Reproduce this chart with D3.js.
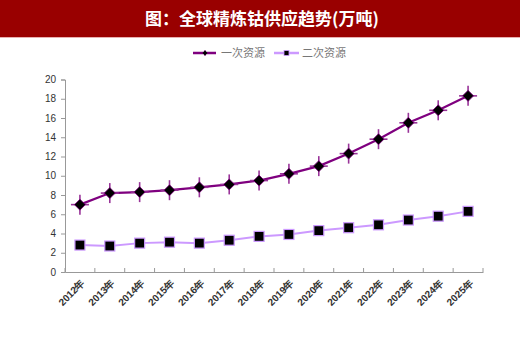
<!DOCTYPE html>
<html><head><meta charset="utf-8">
<script src="https://cdn.jsdelivr.net/npm/d3@7/dist/d3.min.js"></script>
<style>body{margin:0;background:#fff;}svg{display:block;}</style>
</head><body>
<svg id="c" width="520" height="338"></svg>
<script>
const title = "图：全球精炼钴供应趋势(万吨)";
const years = ["2012年","2013年","2014年","2015年","2016年","2017年","2018年","2019年","2020年","2021年","2022年","2023年","2024年","2025年"];
const seriesNames = ["一次资源","二次资源"];
const primary = [7.0, 8.2, 8.3, 8.5, 8.8, 9.1, 9.5, 10.2, 11.0, 12.3, 13.8, 15.5, 16.8, 18.3];
const secondary = [2.8, 2.7, 3.0, 3.1, 3.0, 3.3, 3.7, 3.9, 4.3, 4.6, 4.9, 5.4, 5.8, 6.3];
const yTicks = [0,2,4,6,8,10,12,14,16,18,20];

const svg = d3.select("#c");
const font = "'Liberation Sans', Arial, sans-serif";
const cjk = "'Noto Sans CJK SC', sans-serif";

svg.append("rect").attr("x",0).attr("y",0).attr("width",520).attr("height",37).attr("fill","#990000");
svg.append("rect").attr("x",0).attr("y",37).attr("width",520).attr("height",1).attr("fill","#e8b0b0");
svg.append("text").attr("x",262).attr("y",25).attr("text-anchor","middle")
  .attr("fill","#fff").attr("font-family",cjk).attr("font-weight","bold").attr("font-size",17).text(title);

const x = d3.scaleBand().domain(years).range([65,483]);
const y = d3.scaleLinear().domain([0,20]).range([272,79.5]);

// axes
const yAxis = d3.axisLeft(y).tickValues(yTicks).tickSize(4).tickPadding(5);
const gy = svg.append("g").attr("transform","translate(65,0)").call(yAxis);
gy.select(".domain").attr("stroke","#999");
gy.selectAll(".tick line").attr("stroke","#999");
gy.selectAll("text").attr("font-family",font).attr("font-size",10).attr("fill","#333");

const xAxis = d3.axisBottom(x).tickSizeOuter(0).tickSize(0);
const gx = svg.append("g").attr("transform","translate(0,272)").call(xAxis);
gx.select(".domain").attr("stroke","#999");
gx.selectAll(".tick text").attr("font-family",font).attr("font-size",10).attr("fill","#333").attr("font-weight","bold")
  .attr("text-anchor","end").attr("transform","translate(1,7) rotate(-45)").attr("dy","0.35em").attr("dx","0");
// band boundary ticks
const bounds = years.map(d=>x(d)).concat([x.range()[1]]);
svg.append("g").selectAll("line").data(bounds).join("line")
  .attr("x1",d=>d).attr("x2",d=>d).attr("y1",272).attr("y2",268).attr("stroke","#999");

const cx = d => x(d) + x.bandwidth()/2;

// secondary
const line = d3.line().x((d,i)=>cx(years[i])).y(d=>y(d));
svg.append("path").datum(secondary).attr("d",line).attr("fill","none").attr("stroke","#cc99ff").attr("stroke-width",2);
svg.append("g").selectAll("rect").data(secondary).join("rect")
  .attr("x",(d,i)=>cx(years[i])-5).attr("y",d=>y(d)-5).attr("width",10).attr("height",10)
  .attr("fill","#000").attr("stroke","#cc99ff").attr("stroke-width",1.2);

// primary
svg.append("path").datum(primary).attr("d",line).attr("fill","none").attr("stroke","#7f007f").attr("stroke-width",2.2);
const pg = svg.append("g").selectAll("g").data(primary).join("g")
  .attr("transform",(d,i)=>`translate(${cx(years[i])},${y(d)})`);
pg.append("line").attr("x1",0).attr("x2",0).attr("y1",-10).attr("y2",10).attr("stroke","#993399").attr("stroke-width",1.6);
pg.append("line").attr("x1",-9).attr("x2",9).attr("y1",0).attr("y2",0).attr("stroke","#993399").attr("stroke-width",1.6);
pg.append("path").attr("d","M0,-5.5L5.5,0L0,5.5L-5.5,0Z").attr("fill","#000").attr("stroke","#7f007f").attr("stroke-width",0.8);

// legend
const lg = svg.append("g");
lg.append("line").attr("x1",193).attr("x2",216).attr("y1",53).attr("y2",53).attr("stroke","#7f007f").attr("stroke-width",2.5);
lg.append("line").attr("x1",205).attr("x2",205).attr("y1",50).attr("y2",56).attr("stroke","#993399").attr("stroke-width",1.2);
lg.append("path").attr("d","M205,50.5L207.5,53L205,55.5L202.5,53Z").attr("fill","#000");
lg.append("text").attr("x",221).attr("y",57).attr("font-family",cjk).attr("font-size",11).attr("fill","#777").text(seriesNames[0]);
lg.append("line").attr("x1",274).attr("x2",299).attr("y1",53).attr("y2",53).attr("stroke","#cc99ff").attr("stroke-width",2.5);
lg.append("rect").attr("x",284).attr("y",50.5).attr("width",5).attr("height",5).attr("fill","#000").attr("stroke","#cc99ff").attr("stroke-width",0.8);
lg.append("text").attr("x",302).attr("y",57).attr("font-family",cjk).attr("font-size",11).attr("fill","#777").text(seriesNames[1]);
</script>
</body></html>
